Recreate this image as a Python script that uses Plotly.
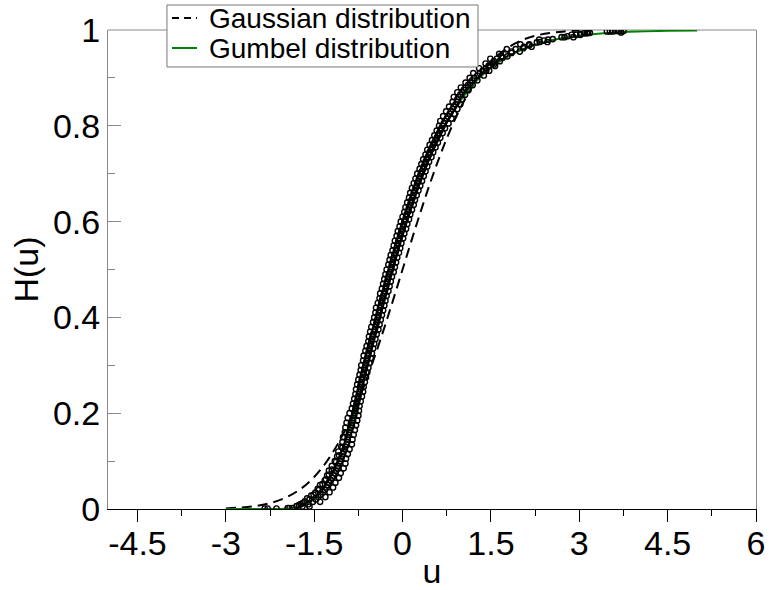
import plotly.graph_objects as go

# ---- reference curves ----
gauss_u = [-3, -2.75, -2.5, -2.25, -2, -1.75, -1.5, -1.25, -1, -0.75, -0.5, -0.25, 0,
           0.25, 0.5, 0.75, 1, 1.25, 1.5, 1.75, 2, 2.25, 2.5, 2.75, 3]
gauss_h = [0.0013, 0.003, 0.0062, 0.0122, 0.0228, 0.0401, 0.0668, 0.1057, 0.1587, 0.2266,
           0.3085, 0.4013, 0.5, 0.5987, 0.6915, 0.7734, 0.8413, 0.8944, 0.9332, 0.9599,
           0.9773, 0.9878, 0.9938, 0.997, 0.9987]

gumbel_u = [-3, -2.5, -2.25, -2, -1.75, -1.5, -1.25, -1, -0.75, -0.5, -0.25, 0, 0.25, 0.5,
            0.75, 1, 1.25, 1.5, 1.75, 2, 2.25, 2.5, 2.75, 3, 3.5, 4, 4.5, 5]
gumbel_h = [0.0, 0.000001, 0.00004, 0.00067, 0.005, 0.0214, 0.0614, 0.1321, 0.2302, 0.3444,
            0.4613, 0.5703, 0.6653, 0.744, 0.8069, 0.8558, 0.8932, 0.9213, 0.9422, 0.9577,
            0.9691, 0.9775, 0.9836, 0.9881, 0.9937, 0.9967, 0.9983, 0.9991]

# ---- empirical points: set A ----
a_h = [0.01, 0.02, 0.03, 0.04, 0.05, 0.06, 0.07, 0.08, 0.09, 0.10,
       0.11, 0.12, 0.13, 0.14, 0.15, 0.16, 0.17, 0.18, 0.19, 0.20,
       0.21, 0.22, 0.23, 0.24, 0.25, 0.26, 0.27, 0.28, 0.29, 0.30,
       0.31, 0.32, 0.33, 0.34, 0.35, 0.36, 0.37, 0.38, 0.39, 0.40,
       0.41, 0.42, 0.43, 0.44, 0.45, 0.46, 0.47, 0.48, 0.49, 0.50,
       0.51, 0.52, 0.53, 0.54, 0.55, 0.56, 0.57, 0.58, 0.59, 0.60,
       0.61, 0.62, 0.63, 0.64, 0.65, 0.66, 0.67, 0.68, 0.69, 0.70,
       0.71, 0.72, 0.73, 0.74, 0.75, 0.76, 0.77, 0.78, 0.79, 0.80,
       0.81, 0.82, 0.83, 0.84, 0.85, 0.86, 0.87, 0.88, 0.89, 0.90,
       0.91, 0.92, 0.93, 0.94, 0.95, 0.96, 0.97, 0.98, 0.99]
a_u = [-1.73, -1.58, -1.51, -1.42, -1.40, -1.32, -1.28, -1.25, -1.20, -1.15,
       -1.11, -1.09, -1.04, -1.02, -1.01, -0.98, -0.97, -0.95, -0.93, -0.90,
       -0.86, -0.84, -0.82, -0.80, -0.79, -0.77, -0.75, -0.73, -0.71, -0.70,
       -0.67, -0.66, -0.63, -0.61, -0.58, -0.57, -0.55, -0.53, -0.50, -0.48,
       -0.46, -0.45, -0.42, -0.39, -0.38, -0.35, -0.33, -0.31, -0.29, -0.27,
       -0.24, -0.22, -0.20, -0.17, -0.15, -0.13, -0.10, -0.08, -0.05, -0.03,
       0.00, 0.03, 0.05, 0.08, 0.11, 0.13, 0.16, 0.19, 0.22, 0.25,
       0.29, 0.32, 0.35, 0.39, 0.42, 0.46, 0.50, 0.54, 0.58, 0.62,
       0.64, 0.69, 0.74, 0.79, 0.85, 0.87, 0.93, 0.99, 1.07, 1.14,
       1.20, 1.30, 1.41, 1.49, 1.64, 1.77, 2.00, 2.32, 2.87]

# ---- empirical points: set D (same ranks as A) ----
d_u = [-1.60, -1.47, -1.39, -1.32, -1.27, -1.22, -1.17, -1.13, -1.10, -1.06,
       -1.03, -1.00, -0.97, -0.94, -0.93, -0.91, -0.88, -0.86, -0.84, -0.82,
       -0.80, -0.78, -0.76, -0.74, -0.72, -0.71, -0.69, -0.67, -0.65, -0.63,
       -0.61, -0.59, -0.57, -0.55, -0.53, -0.51, -0.48, -0.46, -0.44, -0.42,
       -0.40, -0.38, -0.36, -0.34, -0.31, -0.29, -0.27, -0.25, -0.23, -0.20,
       -0.18, -0.16, -0.14, -0.11, -0.09, -0.07, -0.04, -0.02, 0.01, 0.03,
       0.06, 0.09, 0.11, 0.14, 0.17, 0.19, 0.22, 0.25, 0.28, 0.31,
       0.35, 0.38, 0.41, 0.45, 0.48, 0.52, 0.56, 0.60, 0.64, 0.68,
       0.72, 0.77, 0.82, 0.87, 0.93, 0.95, 1.01, 1.07, 1.15, 1.22,
       1.31, 1.41, 1.52, 1.60, 1.75, 1.92, 2.15, 2.47, 3.02]

# ---- empirical points: set B ----
b_h = [0.005, 0.015, 0.025, 0.035, 0.045, 0.055, 0.065, 0.075, 0.085, 0.095,
       0.105, 0.115, 0.125, 0.135, 0.145, 0.155, 0.165, 0.175, 0.185, 0.195,
       0.205, 0.215, 0.225, 0.235, 0.245, 0.255, 0.265, 0.275, 0.285, 0.295,
       0.305, 0.315, 0.325, 0.335, 0.345, 0.355, 0.365, 0.375, 0.385, 0.395,
       0.405, 0.415, 0.425, 0.435, 0.445, 0.455, 0.465, 0.475, 0.485, 0.495,
       0.505, 0.515, 0.525, 0.535, 0.545, 0.555, 0.565, 0.575, 0.585, 0.595,
       0.605, 0.615, 0.625, 0.635, 0.645, 0.655, 0.665, 0.675, 0.685, 0.695,
       0.705, 0.715, 0.725, 0.735, 0.745, 0.755, 0.765, 0.775, 0.785, 0.795,
       0.805, 0.815, 0.825, 0.835, 0.845, 0.855, 0.865, 0.875, 0.885, 0.895,
       0.905, 0.915, 0.925, 0.935, 0.945, 0.955, 0.965, 0.975, 0.985, 0.995]
b_u = [-1.58, -1.40, -1.31, -1.24, -1.18, -1.14, -1.08, -1.05, -1.00, -0.97,
       -0.96, -0.93, -0.90, -0.86, -0.85, -0.83, -0.81, -0.79, -0.77, -0.75,
       -0.74, -0.73, -0.71, -0.69, -0.67, -0.66, -0.64, -0.62, -0.60, -0.58,
       -0.56, -0.54, -0.52, -0.50, -0.48, -0.46, -0.44, -0.41, -0.39, -0.37,
       -0.35, -0.33, -0.31, -0.29, -0.27, -0.24, -0.22, -0.20, -0.18, -0.15,
       -0.13, -0.11, -0.09, -0.06, -0.04, -0.02, 0.01, 0.03, 0.06, 0.08,
       0.11, 0.13, 0.16, 0.19, 0.21, 0.24, 0.27, 0.30, 0.33, 0.36,
       0.39, 0.42, 0.45, 0.49, 0.52, 0.56, 0.60, 0.64, 0.68, 0.72,
       0.78, 0.83, 0.88, 0.93, 0.98, 1.01, 1.06, 1.12, 1.19, 1.27,
       1.38, 1.47, 1.57, 1.65, 1.78, 1.99, 2.19, 2.46, 2.90, 3.71]

# ---- empirical points: set E (same ranks as B) ----
e_u = [-1.70, -1.52, -1.43, -1.35, -1.29, -1.25, -1.19, -1.15, -1.10, -1.07,
       -1.04, -1.01, -0.98, -0.95, -0.93, -0.91, -0.89, -0.86, -0.84, -0.82,
       -0.80, -0.79, -0.77, -0.75, -0.73, -0.72, -0.70, -0.68, -0.66, -0.64,
       -0.62, -0.60, -0.58, -0.56, -0.54, -0.52, -0.50, -0.47, -0.45, -0.43,
       -0.41, -0.39, -0.37, -0.35, -0.33, -0.30, -0.28, -0.26, -0.24, -0.21,
       -0.19, -0.17, -0.15, -0.12, -0.10, -0.08, -0.05, -0.03, 0.00, 0.02,
       0.05, 0.07, 0.10, 0.13, 0.15, 0.18, 0.21, 0.24, 0.27, 0.30,
       0.33, 0.36, 0.39, 0.43, 0.46, 0.50, 0.54, 0.58, 0.62, 0.66,
       0.70, 0.75, 0.80, 0.85, 0.90, 0.93, 0.98, 1.04, 1.11, 1.18,
       1.27, 1.36, 1.46, 1.55, 1.68, 1.85, 2.06, 2.33, 2.75, 3.15]

# ---- empirical points: tails ----
c_u = [-2.34, -2.29, -2.14, -1.95, -1.92, -1.87, -1.80, -1.76, -1.70, -1.66,
       -1.62, -1.55, -1.48, -1.44, -1.36, -1.30, -1.25, -1.20, -1.13, -1.08, -1.02,
       1.42, 1.55, 1.70, 1.85, 2.05, 2.15, 2.28, 2.40, 2.55, 2.70, 2.80,
       2.95, 3.02, 3.08, 3.13, 3.18, 3.47, 3.52, 3.57, 3.63, 3.68, 3.75]
c_h = [0.001, 0.001, 0.001, 0.002, 0.002, 0.002, 0.006, 0.008, 0.012, 0.016,
       0.022, 0.028, 0.034, 0.042, 0.052, 0.062, 0.072, 0.082, 0.098, 0.112, 0.128,
       0.915, 0.928, 0.942, 0.952, 0.962, 0.968, 0.974, 0.978, 0.981, 0.985, 0.987,
       0.990, 0.992, 0.993, 0.993, 0.994, 0.997, 0.997, 0.997, 0.998, 0.998, 0.998]

x_ticks = [-4.5, -3, -1.5, 0, 1.5, 3, 4.5, 6]
x_labels = ["-4.5", "-3", "-1.5", "0", "1.5", "3", "4.5", "6"]
y_ticks = [0, 0.2, 0.4, 0.6, 0.8, 1]
y_labels = ["0", "0.2", "0.4", "0.6", "0.8", "1"]
legend_names = ["Gaussian distribution", "Gumbel distribution"]

FONT = "Liberation Sans, Arial, sans-serif"
GREEN = "#008000"

fig = go.Figure()
fig.add_trace(go.Scatter(x=gauss_u, y=gauss_h, mode="lines", name=legend_names[0],
                         line=dict(color="black", width=2, dash="10px,6px", shape="spline")))
fig.add_trace(go.Scatter(x=gumbel_u, y=gumbel_h, mode="lines", name=legend_names[1],
                         line=dict(color=GREEN, width=2, shape="spline")))
marker = dict(symbol="circle-open", size=5.3, color="black", line=dict(width=1.4))
for xs, ys in ((a_u, a_h), (d_u, a_h), (b_u, b_h), (e_u, b_h), (c_u, c_h)):
    fig.add_trace(go.Scatter(x=xs, y=ys, mode="markers", marker=marker, showlegend=False))

# legend box drawn in paper coordinates (box above the plot top edge)
LX0, LX1, LY0, LY1 = 0.091, 0.571, 0.9228, 1.0522
ROW1, ROW2 = 1.025, 0.9624
shapes = [
    dict(type="line", xref="paper", yref="paper", x0=0, x1=1, y0=1, y1=1,
         line=dict(color="#888888", width=1), layer="below"),
    dict(type="rect", xref="paper", yref="paper", x0=LX0, x1=LX1, y0=LY0, y1=LY1,
         fillcolor="white", line=dict(color="#777777", width=1), layer="above"),
    dict(type="line", xref="paper", yref="paper", x0=0.0988, x1=0.1373, y0=ROW1, y1=ROW1,
         line=dict(color="black", width=2, dash="7px,5px"), layer="above"),
    dict(type="line", xref="paper", yref="paper", x0=0.0988, x1=0.1373, y0=ROW2, y1=ROW2,
         line=dict(color=GREEN, width=2), layer="above"),
]
annotations = [
    dict(xref="paper", yref="paper", x=0.1528, y=ROW1, text=legend_names[0],
         showarrow=False, xanchor="left", yanchor="middle",
         font=dict(size=28, family=FONT, color="black")),
    dict(xref="paper", yref="paper", x=0.1528, y=ROW2, text=legend_names[1],
         showarrow=False, xanchor="left", yanchor="middle",
         font=dict(size=28, family=FONT, color="black")),
]

fig.update_layout(
    width=771, height=590,
    margin=dict(l=108, r=15, t=30, b=81, autoexpand=False),
    paper_bgcolor="white", plot_bgcolor="white",
    font=dict(family=FONT, color="black"),
    showlegend=False,
    shapes=shapes,
    annotations=annotations,
)
fig.update_xaxes(
    range=[-5, 6], tickmode="array", tickvals=x_ticks, ticktext=x_labels,
    ticks="outside", ticklen=12, tickwidth=1, tickcolor="black",
    minor=dict(dtick=0.75, tick0=0, ticks="outside", ticklen=6, tickcolor="black"),
    showline=True, linecolor="black", linewidth=1, mirror=False,
    showgrid=False, zeroline=False, automargin=False,
    tickfont=dict(size=34, family=FONT), ticklabelstandoff=-8,
    title=dict(text="u", font=dict(size=34, family=FONT), standoff=0),
)
fig.update_yaxes(
    range=[0, 1], tickmode="array", tickvals=y_ticks, ticktext=y_labels,
    ticks="inside", ticklen=13, tickwidth=1, tickcolor="#888888",
    minor=dict(dtick=0.1, tick0=0, ticks="inside", ticklen=7, tickcolor="#888888"),
    showline=True, linecolor="#888888", linewidth=1, mirror=True,
    showgrid=False, zeroline=False, automargin=False,
    tickfont=dict(size=34, family=FONT),
    title=dict(text="H(u)", font=dict(size=34, family=FONT), standoff=4),
)

fig.write_html("out.html", config={"displayModeBar": False},
               post_script="document.body.style.margin='0px';")
